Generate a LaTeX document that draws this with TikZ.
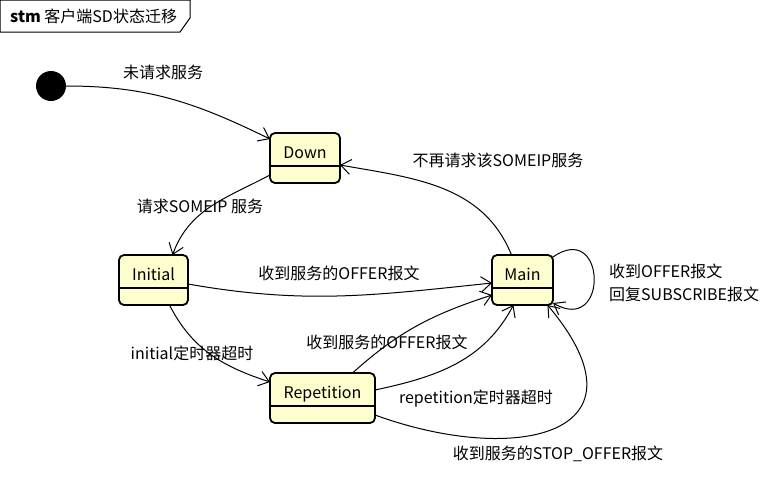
\documentclass[tikz,border=0pt]{standalone}
\usepackage{fontspec}
\setmainfont{Noto Sans CJK SC}
\usetikzlibrary{arrows.meta}
\definecolor{statefill}{RGB}{254,254,206}
\tikzset{
    statenode/.style = {
        rectangle,
        draw=black,
        line width=1.8pt,
        fill=statefill,
        rounded corners=5pt,
        minimum height=50pt,
        text height=12pt,
        text depth=12pt,
        inner xsep=2pt,
        inner ysep=0pt,
        outer sep=0pt,
        path picture={
            \draw[line width=1.2pt]
                ([yshift=-33pt]path picture bounding box.north west) --
                ([yshift=-33pt]path picture bounding box.north east);
        }
    },
    startnode/.style = {
        circle,
        fill=black,
        minimum size=30pt,
        inner sep=0pt
    },
    trans/.style = {
        draw=black,
        line width=1pt,
        -{Straight Barb[length=10pt,width=15pt]}
    },
    translabel/.style = {
        inner sep=0pt
    }
}
\begin{document}
\begin{tikzpicture}[x=1pt, y=1pt, font=\fontsize{16}{23}\selectfont]
    \useasboundingbox (0,0) rectangle (775,-477);
    \draw[line width=1pt] (0,0) -- (190,0) -- (190,-18) -- (180,-32) -- (0,-32) -- cycle;
    \node[anchor=west, inner sep=0pt] (title) at (10,-16) {\textbf{stm} 客户端SD状态迁移};

    \node[startnode] (start) at (51,-86) {};
    \node[statenode, minimum width=70pt] (Down) at (305,-158) {Down};
    \node[statenode, minimum width=69pt] (Initial) at (153.5,-280) {Initial};
    \node[statenode, minimum width=61pt] (Main) at (522.5,-280) {Main};
    \node[statenode, minimum width=105pt] (Repetition) at (322.5,-398) {Repetition};

    \draw[trans] (start) to[out=0, in=154] ([yshift=-6pt]Down.north west);
    \draw[trans] ([yshift=8pt]Down.south west) to[out=208, in=70] ([xshift=19pt]Initial.north);
    \draw[trans] ([xshift=-11pt]Main.north) to[out=112, in=-10] ([yshift=-7pt]Down.east);
    \draw[trans] ([yshift=-4pt]Initial.east) to[out=-10, in=186] ([yshift=-3pt]Main.west);
    \draw[trans] ([xshift=16pt]Initial.south) to[out=-63, in=162] ([yshift=16pt]Repetition.west);
    \draw[trans] ([xshift=30pt]Repetition.north) to[out=42, in=198] ([yshift=-15pt]Main.west);
    \draw[trans] ([yshift=8pt]Repetition.east) to[out=12, in=-118] ([xshift=-9pt]Main.south);
    \draw[trans] ([yshift=-17pt]Repetition.east) .. controls +(-20:150) and +(-50:170) .. ([xshift=25pt]Main.south);
    \draw[trans] ([yshift=-2pt]Main.north east) .. controls +(35:65) and +(-30:65) .. ([yshift=2pt]Main.south east);

    \node[translabel] (lblStartDown) at (163,-72) {未请求服务};
    \node[translabel] (lblDownInitial) at (200,-206) {请求SOMEIP 服务};
    \node[translabel] (lblMainDown) at (498,-160) {不再请求该SOMEIP服务};
    \node[translabel] (lblInitialMain) at (339,-273) {收到服务的OFFER报文};
    \node[translabel] (lblInitialRep) at (192,-353) {initial定时器超时};
    \node[translabel] (lblRepMainOffer) at (387,-342) {收到服务的OFFER报文};
    \node[translabel] (lblRepMainTimer) at (476,-399) {repetition定时器超时};
    \node[translabel] (lblRepMainStop) at (558,-454) {收到服务的STOP\_OFFER报文};
    \node[translabel, anchor=west, align=left] (lblMainMain) at (609,-282.5) {收到OFFER报文\\回复SUBSCRIBE报文};
\end{tikzpicture}
\end{document}
